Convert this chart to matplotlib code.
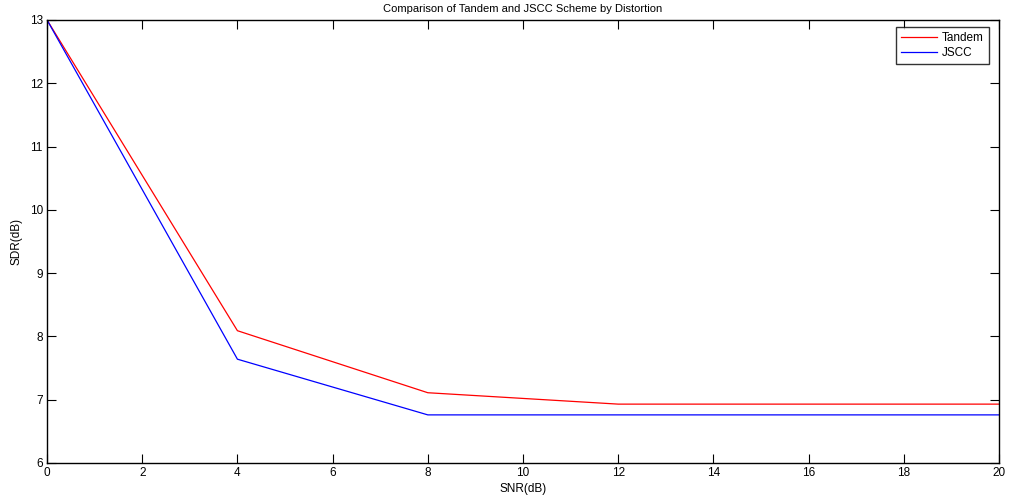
import matplotlib
matplotlib.use("Agg")
import matplotlib.pyplot as plt

snr = [0, 4, 8, 12, 16, 20]
tandem = [13.0, 8.09, 7.11, 6.93, 6.93, 6.93]
jscc = [13.0, 7.64, 6.76, 6.76, 6.76, 6.76]

plt.rcParams['font.family'] = ['Liberation Sans', 'DejaVu Sans']
plt.rcParams['font.size'] = 8.5

fig = plt.figure(figsize=(10.09, 4.98), dpi=100)
ax = fig.add_axes([0.0466, 0.0703, 0.9435, 0.8897])
ax.plot(snr, tandem, color='red', lw=0.9, label='Tandem')
ax.plot(snr, jscc, color='blue', lw=0.9, label='JSCC')

ax.set_xlim(0, 20)
ax.set_ylim(6, 13)
ax.set_xticks(range(0, 21, 2))
ax.set_yticks(range(6, 14))
ax.tick_params(direction='in', top=True, right=True, length=6.5, width=0.8, pad=3)
for s in ax.spines.values():
    s.set_linewidth(1.0)

ax.set_title('Comparison of Tandem and JSCC Scheme by Distortion', fontsize=8, pad=6)
ax.set_xlabel('SNR(dB)', labelpad=2.5)
ax.set_ylabel('SDR(dB)', labelpad=5)

# legend box placed like MATLAB's, just inside the top right corner
leg = ax.legend(loc='upper right', bbox_to_anchor=(0.9895, 0.984), borderaxespad=0,
                fancybox=False, edgecolor='black', handlelength=3.0,
                handletextpad=0.45, borderpad=0.42, labelspacing=0.28)
leg.get_frame().set_linewidth(1.0)

plt.savefig('out.png', dpi=100)
